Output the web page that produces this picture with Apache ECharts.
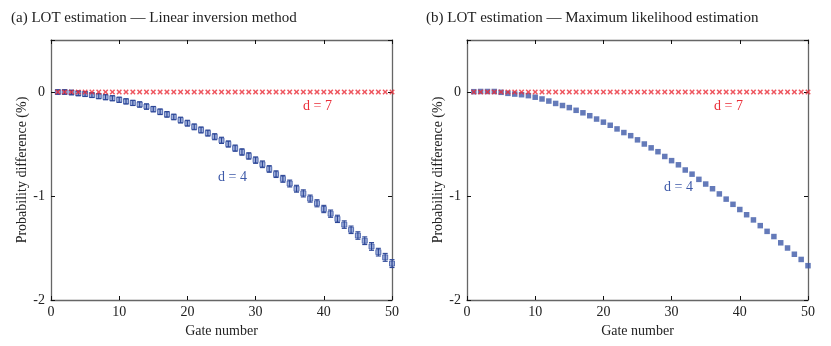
<!doctype html>
<html lang="en">
<head>
    <meta charset="UTF-8">
    <title>LOT estimation</title>
    <script src="https://cdn.jsdelivr.net/npm/echarts@6/dist/echarts.min.js"></script>
    <style>
        html, body { margin: 0; padding: 0; background: #fff; }
        #main { width: 831px; height: 346px; }
    </style>
</head>
<body>
<div id="main"></div>
<script>
    // gate numbers (x)
    const gates = [1, 2, 3, 4, 5, 6, 7, 8, 9, 10, 11, 12, 13, 14, 15, 16, 17, 18, 19, 20,
        21, 22, 23, 24, 25, 26, 27, 28, 29, 30, 31, 32, 33, 34, 35, 36, 37, 38, 39, 40,
        41, 42, 43, 44, 45, 46, 47, 48, 49, 50];

    // (a) linear inversion, d = 4 : mean and half error bar
    const d4Lin = [0, 0, -0.005, -0.013, -0.02, -0.03, -0.04, -0.05, -0.06, -0.075,
        -0.09, -0.105, -0.12, -0.14, -0.165, -0.19, -0.215, -0.24, -0.27, -0.3,
        -0.335, -0.365, -0.395, -0.43, -0.465, -0.5, -0.54, -0.577, -0.615, -0.655,
        -0.695, -0.74, -0.79, -0.835, -0.88, -0.93, -0.975, -1.025, -1.07, -1.125,
        -1.17, -1.22, -1.275, -1.325, -1.38, -1.43, -1.485, -1.54, -1.59, -1.65];
    const errLin = [0.02, 0.02, 0.02, 0.022, 0.022, 0.022, 0.024, 0.024, 0.024, 0.025,
        0.025, 0.025, 0.026, 0.026, 0.026, 0.027, 0.027, 0.027, 0.028, 0.028,
        0.028, 0.029, 0.029, 0.029, 0.03, 0.03, 0.03, 0.031, 0.031, 0.031,
        0.032, 0.032, 0.032, 0.033, 0.033, 0.033, 0.034, 0.034, 0.034, 0.035,
        0.035, 0.035, 0.036, 0.036, 0.036, 0.037, 0.037, 0.037, 0.038, 0.038];
    // (a) d = 7
    const d7Lin = [0, 0, 0, 0, 0, 0, 0, 0, 0, 0, 0, 0, 0, 0, 0, 0, 0, 0, 0, 0,
        0, 0, 0, 0, 0, 0, 0, 0, 0, 0, 0, 0, 0, 0, 0, 0, 0, 0, 0, 0,
        0, 0, 0, 0, 0, 0, 0, 0, 0, 0];

    // (b) maximum likelihood, d = 4
    const d4Mle = [0.003, 0.005, 0.005, 0.005, -0.003, -0.013, -0.02, -0.026, -0.035, -0.05,
        -0.067, -0.087, -0.11, -0.13, -0.15, -0.176, -0.2, -0.228, -0.26, -0.29,
        -0.32, -0.355, -0.39, -0.42, -0.46, -0.5, -0.537, -0.574, -0.62, -0.66,
        -0.7, -0.75, -0.79, -0.84, -0.885, -0.93, -0.98, -1.03, -1.08, -1.13,
        -1.18, -1.23, -1.285, -1.34, -1.39, -1.45, -1.5, -1.56, -1.61, -1.67];
    // (b) d = 7
    const d7Mle = [0, 0, 0, 0, 0, 0, 0, 0, 0, 0, 0, 0, 0, 0, 0, 0, 0, 0, 0, 0,
        0, 0, 0, 0, 0, 0, 0, 0, 0, 0, 0, 0, 0, 0, 0, 0, 0, 0, 0, 0,
        0, 0, 0, 0, 0, 0, 0, 0, 0, 0];

    const xTicks = [0, 10, 20, 30, 40, 50];
    const yTicks = [-2, -1, 0];

    const FONT = 'Liberation Serif';
    const BLUE = '#3d59a8';
    const RED = '#ea2d38';
    // bold "x" marker
    const CROSS = 'path://M0,2L2,0L5,3L8,0L10,2L7,5L10,8L8,10L5,7L2,10L0,8L3,5Z';

    function pairs(xs, ys) {
        return xs.map((x, i) => [x, ys[i]]);
    }

    let myChart = echarts.init(document.getElementById('main'));

    function xAxisFor(gridIndex, pos) {
        let bottom = pos === 'bottom';
        return {
            type: 'value', gridIndex: gridIndex, position: pos,
            min: xTicks[0], max: xTicks[xTicks.length - 1], interval: 10,
            name: bottom ? 'Gate number' : '', nameLocation: 'middle', nameGap: 22,
            nameTextStyle: {fontFamily: FONT, fontSize: 14, color: '#222'},
            axisLine: {show: true, onZero: false, lineStyle: {color: '#666', width: 1.3}},
            axisTick: {show: true, inside: true, length: 4, lineStyle: {color: '#111'}},
            axisLabel: {show: bottom, margin: 5, fontFamily: FONT, fontSize: 14, color: '#222'},
            splitLine: {show: false}
        };
    }

    function yAxisFor(gridIndex, pos) {
        let left = pos === 'left';
        return {
            type: 'value', gridIndex: gridIndex, position: pos,
            min: yTicks[0], max: 0.5, interval: 1,
            name: left ? 'Probability difference (%)' : '', nameLocation: 'middle', nameGap: 22,
            nameTextStyle: {fontFamily: FONT, fontSize: 14, color: '#222'},
            axisLine: {show: true, onZero: false, lineStyle: {color: '#666', width: 1.3}},
            axisTick: {show: true, inside: true, length: 4, lineStyle: {color: '#111'}},
            axisLabel: {
                show: left, margin: 6, fontFamily: FONT, fontSize: 14, color: '#222',
                formatter: v => (yTicks.indexOf(v) >= 0 ? String(v) : '')
            },
            splitLine: {show: false}
        };
    }

    function errorBars(params, api) {
        let x = api.value(0), y = api.value(1), e = api.value(2);
        let lo = api.coord([x, y - e]);
        let hi = api.coord([x, y + e]);
        let w = 2.5;
        let style = {stroke: '#2c4696', lineWidth: 1.1};
        return {
            type: 'group',
            children: [
                {type: 'line', shape: {x1: lo[0], y1: lo[1], x2: hi[0], y2: hi[1]}, style: style},
                {type: 'line', shape: {x1: lo[0] - w, y1: lo[1], x2: lo[0] + w, y2: lo[1]}, style: style},
                {type: 'line', shape: {x1: hi[0] - w, y1: hi[1], x2: hi[0] + w, y2: hi[1]}, style: style}
            ]
        };
    }

    let option = {
        animation: false,
        title: [
            {text: '(a) LOT estimation \u2014 Linear inversion method', left: 6, top: 6,
                textStyle: {fontFamily: FONT, fontSize: 15, fontWeight: 'normal', color: '#222'}},
            {text: '(b) LOT estimation \u2014 Maximum likelihood estimation', left: 421, top: 6,
                textStyle: {fontFamily: FONT, fontSize: 15, fontWeight: 'normal', color: '#222'}}
        ],
        grid: [
            {left: 51, right: 439, top: 40, bottom: 46},
            {left: 467, right: 23, top: 40, bottom: 46}
        ],
        xAxis: [xAxisFor(0, 'bottom'), xAxisFor(0, 'top'), xAxisFor(1, 'bottom'), xAxisFor(1, 'top')],
        yAxis: [yAxisFor(0, 'left'), yAxisFor(0, 'right'), yAxisFor(1, 'left'), yAxisFor(1, 'right')],
        series: [
            {
                name: 'd = 4 (a)', type: 'scatter', xAxisIndex: 0, yAxisIndex: 0,
                symbol: 'rect', symbolSize: 5,
                itemStyle: {color: '#8a9dd2', borderColor: '#3a55a5', borderWidth: 1},
                data: pairs(gates, d4Lin), z: 2
            },
            {
                name: 'err (a)', type: 'custom', xAxisIndex: 0, yAxisIndex: 0,
                renderItem: errorBars,
                data: gates.map((g, i) => [g, d4Lin[i], errLin[i]]), z: 3
            },
            {
                name: 'd = 7 (a)', type: 'scatter', xAxisIndex: 0, yAxisIndex: 0,
                symbol: CROSS, symbolSize: 5.5, itemStyle: {color: RED},
                data: pairs(gates, d7Lin), z: 4
            },
            {
                name: 'd = 4 (b)', type: 'scatter', xAxisIndex: 2, yAxisIndex: 2,
                symbol: 'rect', symbolSize: 5.5, itemStyle: {color: BLUE},
                data: pairs(gates, d4Mle), z: 2
            },
            {
                name: 'd = 7 (b)', type: 'scatter', xAxisIndex: 2, yAxisIndex: 2,
                symbol: CROSS, symbolSize: 5.5, itemStyle: {color: RED},
                data: pairs(gates, d7Mle), z: 4
            }
        ],
        graphic: [
            {type: 'text', left: 303, top: 99, style: {text: 'd = 7', fill: RED, font: '14px "Liberation Serif"'}},
            {type: 'text', left: 218, top: 170, style: {text: 'd = 4', fill: BLUE, font: '14px "Liberation Serif"'}},
            {type: 'text', left: 714, top: 99, style: {text: 'd = 7', fill: RED, font: '14px "Liberation Serif"'}},
            {type: 'text', left: 664, top: 180, style: {text: 'd = 4', fill: BLUE, font: '14px "Liberation Serif"'}}
        ]
    };

    myChart.setOption(option);
</script>
</body>
</html>
